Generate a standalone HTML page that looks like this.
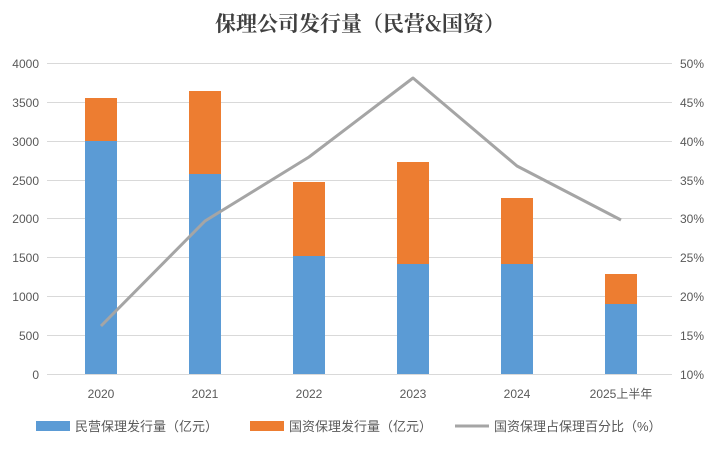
<!DOCTYPE html>
<html><head><meta charset="utf-8"><style>
body{margin:0;background:#fff;}
svg text{font-family:"Liberation Sans","Noto Sans CJK SC",sans-serif;}
</style></head><body>
<svg width="721" height="452" xmlns="http://www.w3.org/2000/svg">
<rect width="721" height="452" fill="#fff"/>
<text x="360" y="31" text-anchor="middle" font-size="21" font-weight="bold" fill="#404040" style="font-family:'Noto Serif CJK SC','Noto Sans CJK SC',serif">保理公司发行量（民营&amp;国资）</text>
<g stroke="#d9d9d9" stroke-width="1">
<line x1="47" x2="672" y1="63.5" y2="63.5"/><line x1="47" x2="672" y1="102.5" y2="102.5"/>
<line x1="47" x2="672" y1="141.5" y2="141.5"/><line x1="47" x2="672" y1="180.5" y2="180.5"/>
<line x1="47" x2="672" y1="218.5" y2="218.5"/><line x1="47" x2="672" y1="257.5" y2="257.5"/>
<line x1="47" x2="672" y1="296.5" y2="296.5"/><line x1="47" x2="672" y1="335.5" y2="335.5"/>
<line x1="47" x2="672" y1="374.5" y2="374.5"/>
</g>
<g font-size="12" fill="#595959" text-anchor="end">
<text x="39" y="68">4000</text><text x="39" y="107">3500</text><text x="39" y="146">3000</text>
<text x="39" y="185">2500</text><text x="39" y="223">2000</text><text x="39" y="262">1500</text>
<text x="39" y="301">1000</text><text x="39" y="340">500</text><text x="39" y="379">0</text>
</g>
<g font-size="12" fill="#595959" text-anchor="start">
<text x="680" y="68">50%</text><text x="680" y="107">45%</text><text x="680" y="146">40%</text>
<text x="680" y="185">35%</text><text x="680" y="223">30%</text><text x="680" y="262">25%</text>
<text x="680" y="301">20%</text><text x="680" y="340">15%</text><text x="680" y="379">10%</text>
</g>
<g fill="#5b9bd5">
<rect x="85" y="141" width="32" height="233"/><rect x="189" y="174" width="32" height="200"/>
<rect x="293" y="256" width="32" height="118"/><rect x="397" y="264" width="32" height="110"/>
<rect x="501" y="264" width="32" height="110"/><rect x="605" y="304" width="32" height="70"/>
</g>
<g fill="#ed7d31">
<rect x="85" y="98" width="32" height="43"/><rect x="189" y="91" width="32" height="83"/>
<rect x="293" y="182" width="32" height="74"/><rect x="397" y="162" width="32" height="102"/>
<rect x="501" y="198" width="32" height="66"/><rect x="605" y="274" width="32" height="30"/>
</g>
<polyline points="101,326 205,221 309,157 413,78 517,166 621,220" fill="none" stroke="#a5a5a5" stroke-width="3" stroke-linejoin="round"/>
<g font-size="12" fill="#595959" text-anchor="middle">
<text x="101" y="398">2020</text><text x="205" y="398">2021</text><text x="309" y="398">2022</text>
<text x="413" y="398">2023</text><text x="517" y="398">2024</text><text x="621" y="398">2025上半年</text>
</g>
<g font-size="13" fill="#595959">
<rect x="36" y="421" width="34" height="10" fill="#5b9bd5"/><text x="75" y="431">民营保理发行量（亿元）</text>
<rect x="250" y="421" width="34" height="10" fill="#ed7d31"/><text x="289" y="431">国资保理发行量（亿元）</text>
<line x1="455" x2="489" y1="426" y2="426" stroke="#a5a5a5" stroke-width="3"/><text x="494" y="431">国资保理占保理百分比（%）</text>
</g>
</svg>
</body></html>
